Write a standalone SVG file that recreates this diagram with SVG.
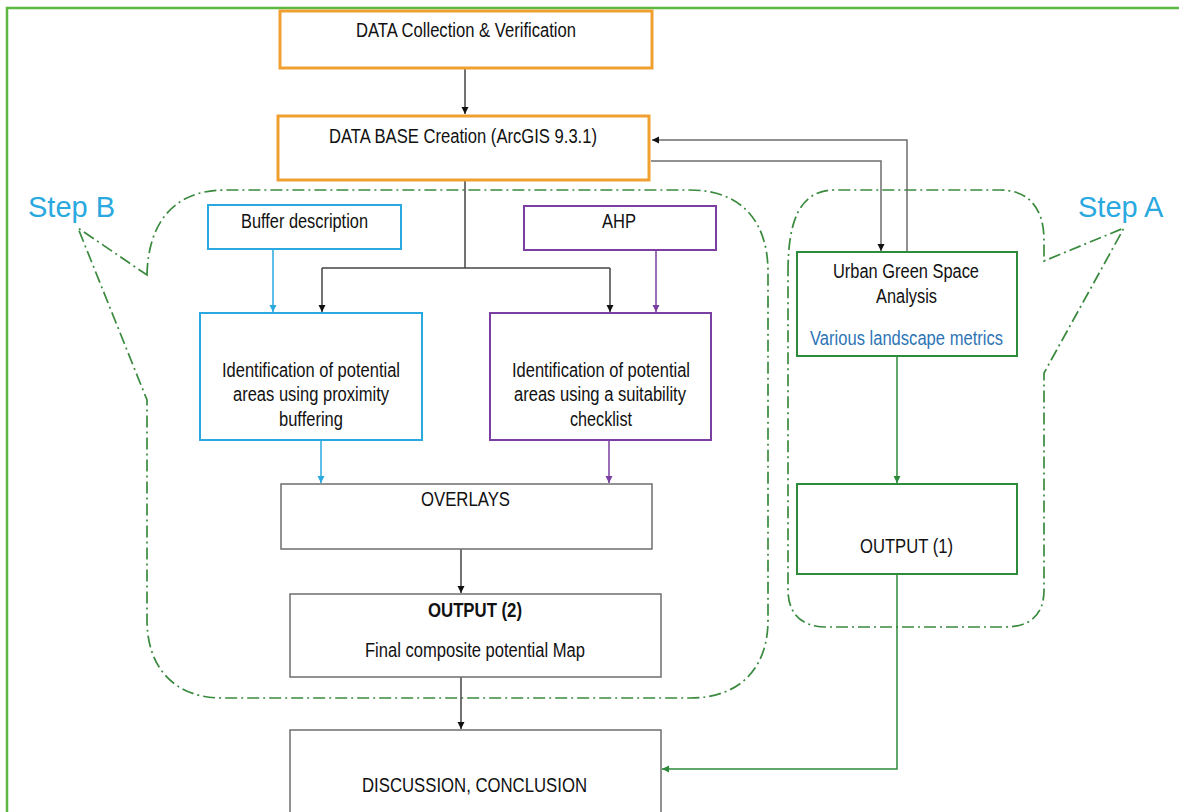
<svg xmlns="http://www.w3.org/2000/svg" width="1179" height="812" viewBox="0 0 1179 812">
  <style>
    .lbl { font-family: "Liberation Sans Narrow", "Liberation Sans", Arial, sans-serif; font-size: 19.5px; fill: #111; text-anchor: middle; }
    .bold { font-weight: bold; }
    .step { font-family: "Liberation Sans", Arial, sans-serif; font-size: 29px; fill: #29a9df; }
    .metric { fill: #2e75b6; }
    .box { fill: #fff; stroke-width: 2; }
    .orange { stroke: #f0a030; stroke-width: 3; }
    .cyan { stroke: #29a9df; }
    .purple { stroke: #7a3fa0; }
    .green { stroke: #2e8b3c; }
    .gray { stroke: #6e6e6e; stroke-width: 1.5; }
    .bubble { fill: none; stroke: #3a8a3e; stroke-width: 1.7; stroke-dasharray: 12 4 2 4; }
    .line { fill: none; stroke-width: 1.5; }
    .k { stroke: #444; }
    .lc { stroke: #29a9df; }
    .lp { stroke: #7a3fa0; }
    .lg { stroke: #2e8b3c; }
  </style>
  <defs>
    <marker id="ak" markerUnits="userSpaceOnUse" markerWidth="8" markerHeight="8" refX="7" refY="4" orient="auto">
      <path d="M0,0.5 L7,4 L0,7.5 Z" fill="#111"/>
    </marker>
    <marker id="ac" markerUnits="userSpaceOnUse" markerWidth="8" markerHeight="8" refX="7" refY="4" orient="auto">
      <path d="M0,0.5 L7,4 L0,7.5 Z" fill="#29a9df"/>
    </marker>
    <marker id="ap" markerUnits="userSpaceOnUse" markerWidth="8" markerHeight="8" refX="7" refY="4" orient="auto">
      <path d="M0,0.5 L7,4 L0,7.5 Z" fill="#7a3fa0"/>
    </marker>
    <marker id="ag" markerUnits="userSpaceOnUse" markerWidth="8" markerHeight="8" refX="7" refY="4" orient="auto">
      <path d="M0,0.5 L7,4 L0,7.5 Z" fill="#2e8b3c"/>
    </marker>
  </defs>

  <rect width="1179" height="812" fill="#fff"/>
  <!-- page frame -->
  <path d="M7,820 L7,8 L1190,8" fill="none" stroke="#5cb840" stroke-width="2.5"/>

  <!-- dash-dot callout outlines -->
  <g id="stepB">
    <path class="bubble" d="M147,275 C148,225 172,190 225,190 L690,190 C740,190 768,220 768,272 L768,620 C768,668 740,698 690,698 L222,698 C175,698 147,668 147,620 L147,400 L78,228 Z"/>
    <text class="step" x="28" y="217">Step B</text>
  </g>
  <g id="stepA">
    <path class="bubble" d="M788,272 C788,220 800,190 835,190 L1000,190 C1030,190 1044,210 1044,240 L1044,261 L1124,228 L1044,373 L1044,590 C1044,615 1030,627 1005,627 L826,627 C800,627 788,612 788,590 Z"/>
    <text class="step" x="1078" y="217">Step A</text>
  </g>

  <g id="connectors">
    <line class="line k" x1="465" y1="69" x2="465" y2="114" marker-end="url(#ak)"/>
    <polyline class="line k" points="465,181 465,268"/>
    <polyline class="line k" points="322,268 610,268"/>
    <line class="line k" x1="322" y1="268" x2="322" y2="312" marker-end="url(#ak)"/>
    <line class="line k" x1="610" y1="268" x2="610" y2="312" marker-end="url(#ak)"/>
    <polyline class="line gray" points="907,252 907,140 652,140" marker-end="url(#ak)"/>
    <polyline class="line gray" points="651,161 881,161 881,251" marker-end="url(#ak)"/>
    <line class="line lc" x1="273" y1="249" x2="273" y2="312" marker-end="url(#ac)"/>
    <line class="line lp" x1="656" y1="250" x2="656" y2="312" marker-end="url(#ap)"/>
    <line class="line lc" x1="321" y1="440" x2="321" y2="483" marker-end="url(#ac)"/>
    <line class="line lp" x1="609" y1="440" x2="609" y2="483" marker-end="url(#ap)"/>
    <line class="line k" x1="461" y1="549" x2="461" y2="593" marker-end="url(#ak)"/>
    <line class="line k" x1="461" y1="677" x2="461" y2="729" marker-end="url(#ak)"/>
    <line class="line lg" x1="897" y1="356" x2="897" y2="483" marker-end="url(#ag)"/>
    <polyline class="line lg" points="897,574 897,769 662,769" marker-end="url(#ag)"/>
  </g>

  <g id="data-collection">
    <rect class="box orange" x="280" y="11" width="372" height="57"/>
    <text class="lbl" x="466" y="37" textLength="220" lengthAdjust="spacingAndGlyphs">DATA Collection &amp; Verification</text>
  </g>
  <g id="database">
    <rect class="box orange" x="278" y="116" width="371" height="64"/>
    <text class="lbl" x="463" y="143" textLength="268" lengthAdjust="spacingAndGlyphs">DATA BASE Creation (ArcGIS 9.3.1)</text>
  </g>
  <g id="buffer">
    <rect class="box cyan" x="208" y="205" width="193" height="44"/>
    <text class="lbl" x="304.5" y="228" textLength="127" lengthAdjust="spacingAndGlyphs">Buffer description</text>
  </g>
  <g id="ahp">
    <rect class="box purple" x="524" y="206" width="192" height="44"/>
    <text class="lbl" x="619" y="228" textLength="34" lengthAdjust="spacingAndGlyphs">AHP</text>
  </g>
  <g id="proximity">
    <rect class="box cyan" x="200" y="313" width="222" height="127"/>
    <text class="lbl" x="311" y="377" textLength="178" lengthAdjust="spacingAndGlyphs">Identification of potential</text>
    <text class="lbl" x="311" y="401" textLength="156" lengthAdjust="spacingAndGlyphs">areas using proximity</text>
    <text class="lbl" x="311" y="426" textLength="64" lengthAdjust="spacingAndGlyphs">buffering</text>
  </g>
  <g id="suitability">
    <rect class="box purple" x="490" y="313" width="221" height="127"/>
    <text class="lbl" x="601" y="377" textLength="178" lengthAdjust="spacingAndGlyphs">Identification of potential</text>
    <text class="lbl" x="600" y="401" textLength="172" lengthAdjust="spacingAndGlyphs">areas using a suitability</text>
    <text class="lbl" x="601" y="426" textLength="62" lengthAdjust="spacingAndGlyphs">checklist</text>
  </g>
  <g id="overlays">
    <rect class="box gray" x="281" y="484" width="371" height="65"/>
    <text class="lbl" x="465.5" y="506" textLength="89" lengthAdjust="spacingAndGlyphs">OVERLAYS</text>
  </g>
  <g id="output2">
    <rect class="box gray" x="290" y="594" width="371" height="83"/>
    <text class="lbl bold" x="475" y="617" textLength="94" lengthAdjust="spacingAndGlyphs">OUTPUT (2)</text>
    <text class="lbl" x="475" y="657" textLength="220" lengthAdjust="spacingAndGlyphs">Final composite potential Map</text>
  </g>
  <g id="discussion">
    <rect class="box gray" x="290" y="730" width="371" height="100"/>
    <text class="lbl" x="474.5" y="792" textLength="225" lengthAdjust="spacingAndGlyphs">DISCUSSION, CONCLUSION</text>
  </g>
  <g id="urban">
    <rect class="box green" x="797" y="252" width="220" height="104"/>
    <text class="lbl" x="906" y="278" textLength="146" lengthAdjust="spacingAndGlyphs">Urban Green Space</text>
    <text class="lbl" x="906.5" y="303" textLength="61" lengthAdjust="spacingAndGlyphs">Analysis</text>
    <text class="lbl metric" x="906.5" y="345" textLength="193" lengthAdjust="spacingAndGlyphs">Various landscape metrics</text>
  </g>
  <g id="output1">
    <rect class="box green" x="797" y="484" width="220" height="90"/>
    <text class="lbl" x="906.5" y="553" textLength="93" lengthAdjust="spacingAndGlyphs">OUTPUT (1)</text>
  </g>
</svg>
